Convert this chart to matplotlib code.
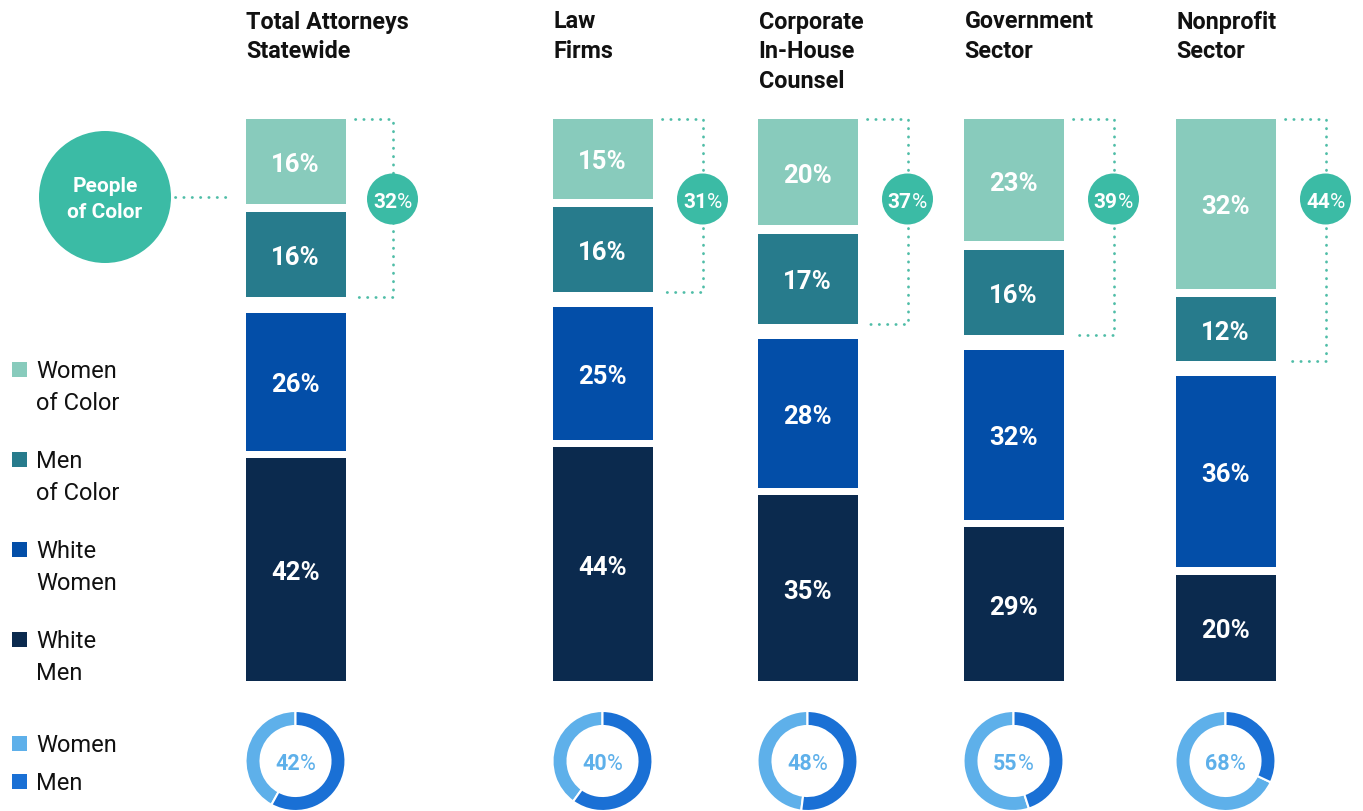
import matplotlib
matplotlib.use("Agg")
import matplotlib.pyplot as plt
from matplotlib.patches import Circle, Rectangle
from matplotlib.transforms import offset_copy

plt.rcParams["font.family"] = ["Roboto", "DejaVu Sans"]

# ---- data ----
sectors = ["Total Attorneys\nStatewide", "Law\nFirms", "Corporate\nIn-House\nCounsel",
           "Government\nSector", "Nonprofit\nSector"]
women_of_color = [16, 15, 20, 23, 32]
men_of_color = [16, 16, 17, 16, 12]
white_women = [26, 25, 28, 32, 36]
white_men = [42, 44, 35, 29, 20]
people_of_color = [32, 31, 37, 39, 44]
women_share = [42, 40, 48, 55, 68]

legend_labels = ["Women\nof Color", "Men\nof Color", "White\nWomen", "White\nMen"]
gender_labels = ["Women", "Men"]

# ---- style ----
C_WOC = "#88CBBC"
C_MOC = "#277B8C"
C_WW = "#034EA8"
C_WM = "#0B2A4E"
C_TEAL = "#3BBBA5"
C_DOT = "#4FBDA7"
C_WOMEN = "#5EB0EA"
C_MEN = "#1A70D5"
C_TXT = "#111111"

W, H = 1363, 812
x_centers = [295.5, 602.5, 807.5, 1013.5, 1225.5]
bar_w = 100
bar_top, bar_bot = 120, 682
gap_wm, gap_mid, gap_poc = 1.4, 2.85, 1.6
span = 100 + gap_wm + gap_mid + gap_poc

fig = plt.figure(figsize=(W / 100, H / 100), dpi=100)

# bars axes (y in percent)
axb = fig.add_axes([0, (H - bar_bot) / H, 1, (bar_bot - bar_top) / H])
axb.set_xlim(0, W)
axb.set_ylim(0, span)
axb.axis("off")

# overlay axes in pixels
ax = fig.add_axes([0, 0, 1, 1])
ax.set_xlim(0, W)
ax.set_ylim(H, 0)
ax.axis("off")

renderer = fig.canvas.get_renderer()


def pct_label(axis, x, y, num, color, size):
    # bold number + regular "%" centred together
    t1 = axis.text(x, y, str(num), fontsize=size, fontweight="bold", color=color,
                   ha="left", va="center_baseline", zorder=6)
    t2 = axis.text(x, y, "%", fontsize=size, color=color,
                   ha="left", va="center_baseline", zorder=6)
    w1 = t1.get_window_extent(renderer).width
    w2 = t2.get_window_extent(renderer).width
    tot = w1 + w2
    t1.set_transform(offset_copy(axis.transData, fig, x=-tot / 2, y=0, units="dots"))
    t2.set_transform(offset_copy(axis.transData, fig, x=-tot / 2 + w1, y=0, units="dots"))


def lines_text(x, y0, text, dy, **kw):
    for i, line in enumerate(text.split("\n")):
        ax.text(x, y0 + i * dy, line, va="baseline", **kw)


for i, xc in enumerate(x_centers):
    segs = [(white_men[i], C_WM, 0),
            (white_women[i], C_WW, gap_wm),
            (men_of_color[i], C_MOC, gap_mid),
            (women_of_color[i], C_WOC, gap_poc)]
    bottom = 0
    for val, col, gap in segs:
        bottom += gap
        axb.bar(xc, val, width=bar_w, bottom=bottom, color=col, linewidth=0)
        axb.text(xc, bottom + val / 2, "%d%%" % val, color="white", fontsize=18.5,
                 fontweight="bold", ha="center", va="center_baseline")
        bottom += val

    # bracket around people of color
    top = span
    poc_bot = white_men[i] + gap_wm + white_women[i] + gap_mid
    xl = xc + bar_w / 2 + 9
    xr = xc + bar_w / 2 + 47 + (3 if i else 0)
    axb.plot([xl, xr, xr, xl], [top, top, poc_bot, poc_bot], color=C_DOT, lw=2,
             linestyle=(0, (0.1, 2.9)), dash_capstyle="round", clip_on=False)
    ax.add_patch(Circle((xr, 200), 25.5, color=C_TEAL, zorder=5, lw=0))
    pct_label(ax, xr, 200, people_of_color[i], "white", 15)

    # titles
    lines_text(xc - bar_w / 2 + 1, 28.5, sectors[i], 29.5, fontsize=16.8,
               fontweight="bold", color=C_TXT, ha="left")

    # donut of women / men
    cy = 762
    r = 51
    axd = fig.add_axes([(xc - r) / W, (H - cy - r) / H, 2 * r / W, 2 * r / H])
    axd.pie([women_share[i], 100 - women_share[i]], colors=[C_WOMEN, C_MEN],
            startangle=90, counterclock=True,
            wedgeprops=dict(width=0.3, edgecolor="white", linewidth=1.5))
    axd.set_xlim(-1.02, 1.02)
    axd.set_ylim(-1.02, 1.02)
    axd.set_aspect("equal")
    pct_label(axd, 0, 0, women_share[i], C_WOMEN, 15.5)

# people of color bubble
ax.add_patch(Circle((105, 198), 66, color=C_TEAL, lw=0, zorder=3))
lines_text(105, 192, "People\nof Color", 26, fontsize=15, fontweight="bold",
           color="white", ha="center", zorder=4)
ax.plot([175, 232], [198, 198], color=C_DOT, lw=2, linestyle=(0, (0.1, 2.9)),
        dash_capstyle="round")

# legend
leg_cols = [C_WOC, C_MOC, C_WW, C_WM]
for k, (lab, col) in enumerate(zip(legend_labels, leg_cols)):
    yb = 378 + 90 * k
    ax.add_patch(Rectangle((12, yb - 15), 15, 15, color=col, lw=0))
    lines_text(36, yb, lab, 32, fontsize=17, color=C_TXT, ha="left")

for k, (lab, col) in enumerate(zip(gender_labels, [C_WOMEN, C_MEN])):
    yb = 752 + 38 * k
    ax.add_patch(Rectangle((12, yb - 15), 15, 15, color=col, lw=0))
    ax.text(36, yb, lab, fontsize=17, color=C_TXT, ha="left", va="baseline")

fig.savefig("out.png", dpi=100)
